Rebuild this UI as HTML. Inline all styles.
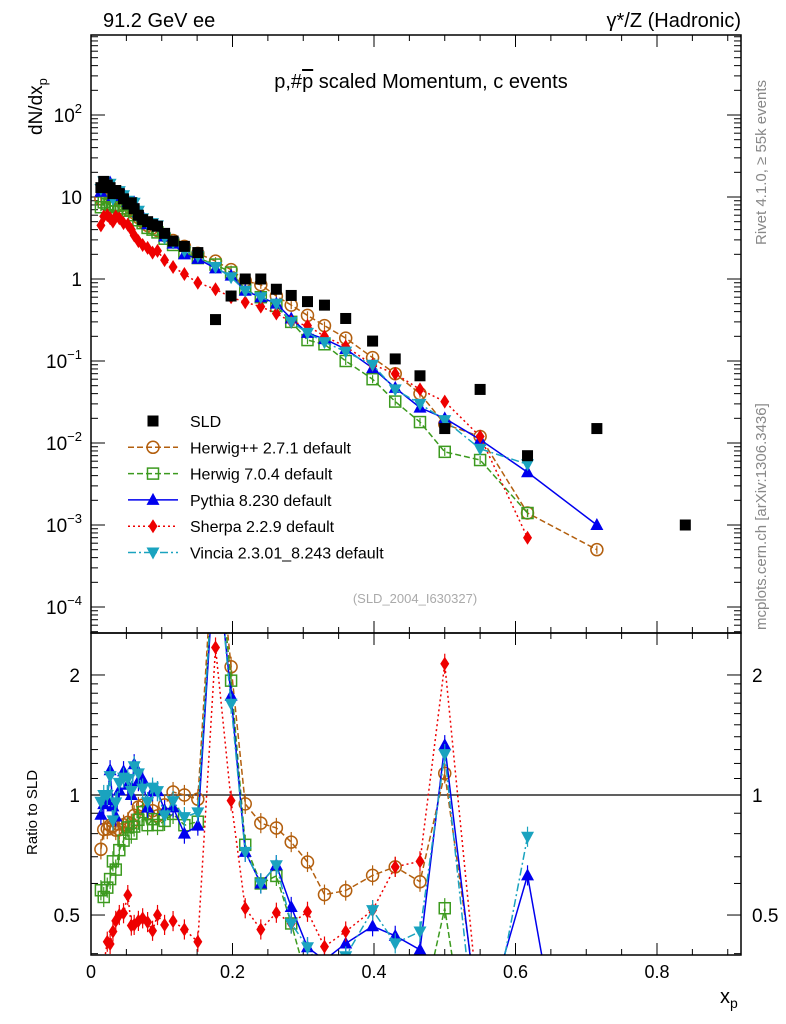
<!DOCTYPE html>
<html><head><meta charset="utf-8"><style>
html,body{margin:0;padding:0;background:#fff;width:786px;height:1024px;overflow:hidden;}
svg{display:block;font-family:"Liberation Sans",sans-serif;}
</style></head><body>
<svg id="c" width="786" height="1024" xmlns="http://www.w3.org/2000/svg">
<defs>
<clipPath id="cm"><rect x="91" y="35" width="650" height="598"/></clipPath>
<clipPath id="cr"><rect x="91" y="633" width="650" height="322"/></clipPath>
</defs>
<g id="axes"></g>
<g id="marks-main" clip-path="url(#cm)"></g>
<g id="marks-ratio" clip-path="url(#cr)"></g>
<rect x="91" y="35" width="650" height="598" fill="none" stroke="#000" stroke-width="1.5"/>
<rect x="91" y="633" width="650" height="322" fill="none" stroke="#000" stroke-width="1.5"/>
<text x="103" y="27" font-size="20">91.2 GeV ee</text>
<text x="741" y="27" font-size="20" text-anchor="end">γ*/Z (Hadronic)</text>
<text x="421" y="88" font-size="20" text-anchor="middle">p,#<tspan text-decoration="overline">p</tspan> scaled Momentum, c events</text>
<text x="415" y="603" font-size="13" fill="#aaa" text-anchor="middle">(SLD_2004_I630327)</text>
<text transform="translate(766,245) rotate(-90)" font-size="15" fill="#888">Rivet 4.1.0, ≥ 55k events</text>
<text transform="translate(766,630) rotate(-90)" font-size="15" fill="#888">mcplots.cern.ch [arXiv:1306.3436]</text>
<text transform="translate(42,135) rotate(-90)" font-size="19">dN/dx<tspan font-size="13" dy="5">p</tspan></text>
<text transform="translate(37,855) rotate(-90)" font-size="15">Ratio to SLD</text>
<text x="720" y="1003" font-size="20">x<tspan font-size="14" dy="5">p</tspan></text>
<g id="legend"></g>
</svg>
<script>
const xBins=[0.014,0.018,0.023,0.027,0.031,0.035,0.04,0.046,0.052,0.057,0.061,0.067,0.073,0.08,0.087,0.094,0.104,0.116,0.132,0.151,0.176,0.198,0.218,0.24,0.262,0.283,0.306,0.33,0.36,0.398,0.43,0.465,0.5,0.55,0.617,0.715,0.84];
const sld=[13,15.5,14,13,11,12,11,9.5,8.2,8.5,7.2,6.0,5.3,5.0,4.6,4.4,3.6,2.9,2.5,2.1,0.32,0.62,1.0,1.0,0.75,0.63,0.53,0.48,0.33,0.175,0.106,0.066,0.015,0.045,0.007,0.015,0.001];
const herwigpp=[9.5,12.7,11.5,10.9,9.2,9.8,9.0,8.0,7.0,7.2,6.4,5.6,5.0,4.5,4.2,3.9,3.4,2.95,2.5,2.05,1.65,1.3,0.95,0.85,0.62,0.48,0.36,0.27,0.19,0.11,0.07,0.04,0.017,0.012,0.0014,0.0005,null];
const herwig7=[7.5,8.6,8.2,8.0,7.5,7.8,8.0,7.3,6.8,6.8,6.0,5.2,4.8,4.2,4.0,3.7,3.1,2.6,2.1,1.8,1.5,1.2,0.75,0.6,0.47,0.3,0.18,0.16,0.1,0.06,0.032,0.018,0.0078,0.0062,0.0014,null,null];
const pythia=[11.6,14.7,13.6,15.0,10.3,10.6,11.3,10.9,8.7,8.5,8.6,6.5,5.8,4.65,4.7,4.5,3.3,2.7,2.0,1.76,1.35,1.1,0.72,0.6,0.5,0.33,0.22,0.185,0.14,0.082,0.047,0.027,0.02,0.011,0.0044,0.001,null];
const sherpa=[4.5,5.8,6.0,5.5,5.0,5.8,5.5,4.8,4.6,4.0,3.4,2.9,2.6,2.4,2.1,2.2,1.7,1.4,1.15,0.9,0.75,0.6,0.52,0.46,0.38,0.3,0.27,0.2,0.15,0.09,0.07,0.045,0.032,0.012,0.0007,null,null];
const vincia=[12.5,15.5,14,14.5,9.5,11.5,11.8,10.5,9.0,8.7,8.5,6.8,5.5,4.8,4.8,4.5,3.2,2.8,2.2,1.9,1.4,1.05,0.72,0.6,0.5,0.3,0.22,0.17,0.13,0.09,0.045,0.03,0.019,0.0085,0.0055,null,null];
const xTicks=[0,0.2,0.4,0.6,0.8];
const xTickLabels=["0","0.2","0.4","0.6","0.8"];
const yDecades=[-4,-3,-2,-1,0,1,2];
const yLabels=["10","10","10","10","1","10","10"];
const ySups=["−4","−3","−2","−1","","","2"];
const rTicks=[0.5,1,2];
const rTickLabels=["0.5","1","2"];
const legendNames=["SLD","Herwig++ 2.7.1 default","Herwig 7.0.4 default","Pythia 8.230 default","Sherpa 2.2.9 default","Vincia 2.3.01_8.243 default"];

const NS="http://www.w3.org/2000/svg";
const X=v=>91+v*707.5;
const Y=v=>115-(Math.log10(v)-2)*82;
const R=v=>795-Math.log10(v)*398.7;
function el(tag,attrs,parent){const e=document.createElementNS(NS,tag);for(const k in attrs)e.setAttribute(k,attrs[k]);parent.appendChild(e);return e;}
const ax=document.getElementById('axes');
for(let i=0;i<xTicks.length;i++){
  const x=X(xTicks[i]);
  for(const [y0,d] of [[633,-12],[35,12],[955,-12],[633,12]]){
    const t=el('line',{x1:x,x2:x,y1:y0,y2:y0+d,stroke:'#000'},ax);
    
    
  }
  const lb=el('text',{x:x,y:978,'font-size':18,'text-anchor':'middle'},ax);lb.textContent=xTickLabels[i];
  
  
}
for(let v=0.05;v<0.92;v+=0.05){if(Math.abs(v/0.2-Math.round(v/0.2))<0.01)continue;const x=X(v);
  for(const [y0,d] of [[633,-6],[35,6],[955,-6],[633,6]]){const t=el('line',{x1:x,x2:x,y1:y0,y2:y0+d,stroke:'#000'},ax);
    
    }}
for(let i=0;i<yDecades.length;i++){
  const d=yDecades[i];const y=Y(Math.pow(10,d));
  for(const [x0,dd] of [[91,14],[741,-14]]){const t=el('line',{x1:x0,x2:x0+dd,y1:y,y2:y,stroke:'#000'},ax);
    
    }
  const lb=el('text',{x:82,y:y+7,'font-size':19,'text-anchor':'end'},ax);
  lb.textContent=yLabels[i];
  if(ySups[i]){const s=el('tspan',{'font-size':13,dy:-9},lb);s.textContent=ySups[i];}
  
  
  for(let m=2;m<10;m++){const yy=Y(m*Math.pow(10,d));if(yy<35||yy>633)continue;
    for(const [x0,dd] of [[91,7],[741,-7]]){const t=el('line',{x1:x0,x2:x0+dd,y1:yy,y2:yy,stroke:'#000'},ax);
      
      }}
}
for(let m=2;m<10;m++){const yy=Y(m*1e-5);if(yy<633){for(const [x0,dd] of [[91,7],[741,-7]]){const t=el('line',{x1:x0,x2:x0+dd,y1:yy,y2:yy,stroke:'#000'},ax);}}}
for(let i=0;i<rTicks.length;i++){const y=R(rTicks[i]);
  for(const [x0,dd] of [[91,14],[741,-14]]){const t=el('line',{x1:x0,x2:x0+dd,y1:y,y2:y,stroke:'#000'},ax);}
  for(const [xx,anc] of [[80,'end'],[752,'start']]){const lb=el('text',{x:xx,y:y+7,'font-size':19,'text-anchor':anc},ax);lb.textContent=rTickLabels[i];
    
    }
}
for(const v of [0.4,0.6,0.7,0.8,0.9,1.1,1.2,1.3,1.4,1.5,1.6,1.7,1.8,1.9]){const y=R(v);if(y<633||y>955)continue;for(const [x0,dd] of [[91,7],[741,-7]]){const t=el('line',{x1:x0,x2:x0+dd,y1:y,y2:y,stroke:'#000'},ax);}}
const one=el('line',{x1:91,x2:741,y1:R(1),y2:R(1),stroke:'#000','stroke-width':1.2},ax);



function marker(type,x,y,col,g){
  let m;
  if(type==='sq')m=el('rect',{x:x-5.5,y:y-5.5,width:11,height:11,fill:'#000'},g);
  else if(type==='circ')m=el('circle',{cx:x,cy:y,r:6,fill:'none',stroke:col,'stroke-width':1.5},g);
  else if(type==='osq')m=el('rect',{x:x-5.5,y:y-5.5,width:11,height:11,fill:'none',stroke:col,'stroke-width':1.5},g);
  else if(type==='tri')m=el('polygon',{points:`${x},${y-7} ${x-6.5},${y+5} ${x+6.5},${y+5}`,fill:col},g);
  else if(type==='dia')m=el('polygon',{points:`${x},${y-7} ${x-4.5},${y} ${x},${y+7} ${x+4.5},${y}`,fill:col},g);
  else m=el('polygon',{points:`${x},${y+7} ${x-6.5},${y-5} ${x+6.5},${y-5}`,fill:col},g);
  return m;
}
const series=[
 {name:'herwigpp',vals:herwigpp,col:'#b35f0e',type:'circ',dash:'6,3'},
 {name:'herwig7',vals:herwig7,col:'#3c9a1f',type:'osq',dash:'6,3'},
 {name:'pythia',vals:pythia,col:'#0000ee',type:'tri',dash:''},
 {name:'sherpa',vals:sherpa,col:'#ee0000',type:'dia',dash:'2,3'},
 {name:'vincia',vals:vincia,col:'#1aa3bf',type:'inv',dash:'8,3,2,3'}
];
const gm=document.getElementById('marks-main'),gr=document.getElementById('marks-ratio');
for(const s of series){
  let pm=[],pr=[];
  for(let i=0;i<xBins.length;i++){const v=s.vals[i];if(v==null)continue;
    pm.push(X(xBins[i])+','+Y(v));pr.push(X(xBins[i])+','+R(v/sld[i]));}
  for(const [g,p] of [[gm,pm],[gr,pr]]){
    const l=el('polyline',{points:p.join(' '),fill:'none',stroke:s.col,'stroke-width':1.5,'stroke-dasharray':s.dash},g);
    
    
  }
  for(let i=0;i<xBins.length;i++){const v=s.vals[i];if(v==null)continue;
    const x=X(xBins[i]);
    const e1=el('line',{x1:x,x2:x,y1:Y(v*1.12),y2:Y(v/1.12),stroke:s.col,'stroke-width':1.2},gm);
    
    
    const m=marker(s.type,x,Y(v),s.col,gm);
    
    
    const r=v/sld[i];
    const e2=el('line',{x1:x,x2:x,y1:R(r*1.06),y2:R(r/1.06),stroke:s.col,'stroke-width':1.2},gr);
    
    
    const m2=marker(s.type,x,R(r),s.col,gr);
    
    
  }
}
for(let i=0;i<xBins.length;i++){
  const m=marker('sq',X(xBins[i]),Y(sld[i]),'#000',gm);
  
  
}
const lg=document.getElementById('legend');
const lt=[{type:'sq',col:'#000',dash:null}].concat(series.map(s=>({type:s.type,col:s.col,dash:s.dash})));
for(let i=0;i<legendNames.length;i++){
  const y=421+i*26.3;const g=el('g',{},lg);
  
  
  if(lt[i].dash!==null)el('line',{x1:128,x2:178,y1:y,y2:y,stroke:lt[i].col,'stroke-width':1.5,'stroke-dasharray':lt[i].dash},g);
  marker(lt[i].type,153,y,lt[i].col,g);
  const t=el('text',{x:190,y:y+6,'font-size':16},g);t.textContent=legendNames[i];
}
</script>
</body></html>
